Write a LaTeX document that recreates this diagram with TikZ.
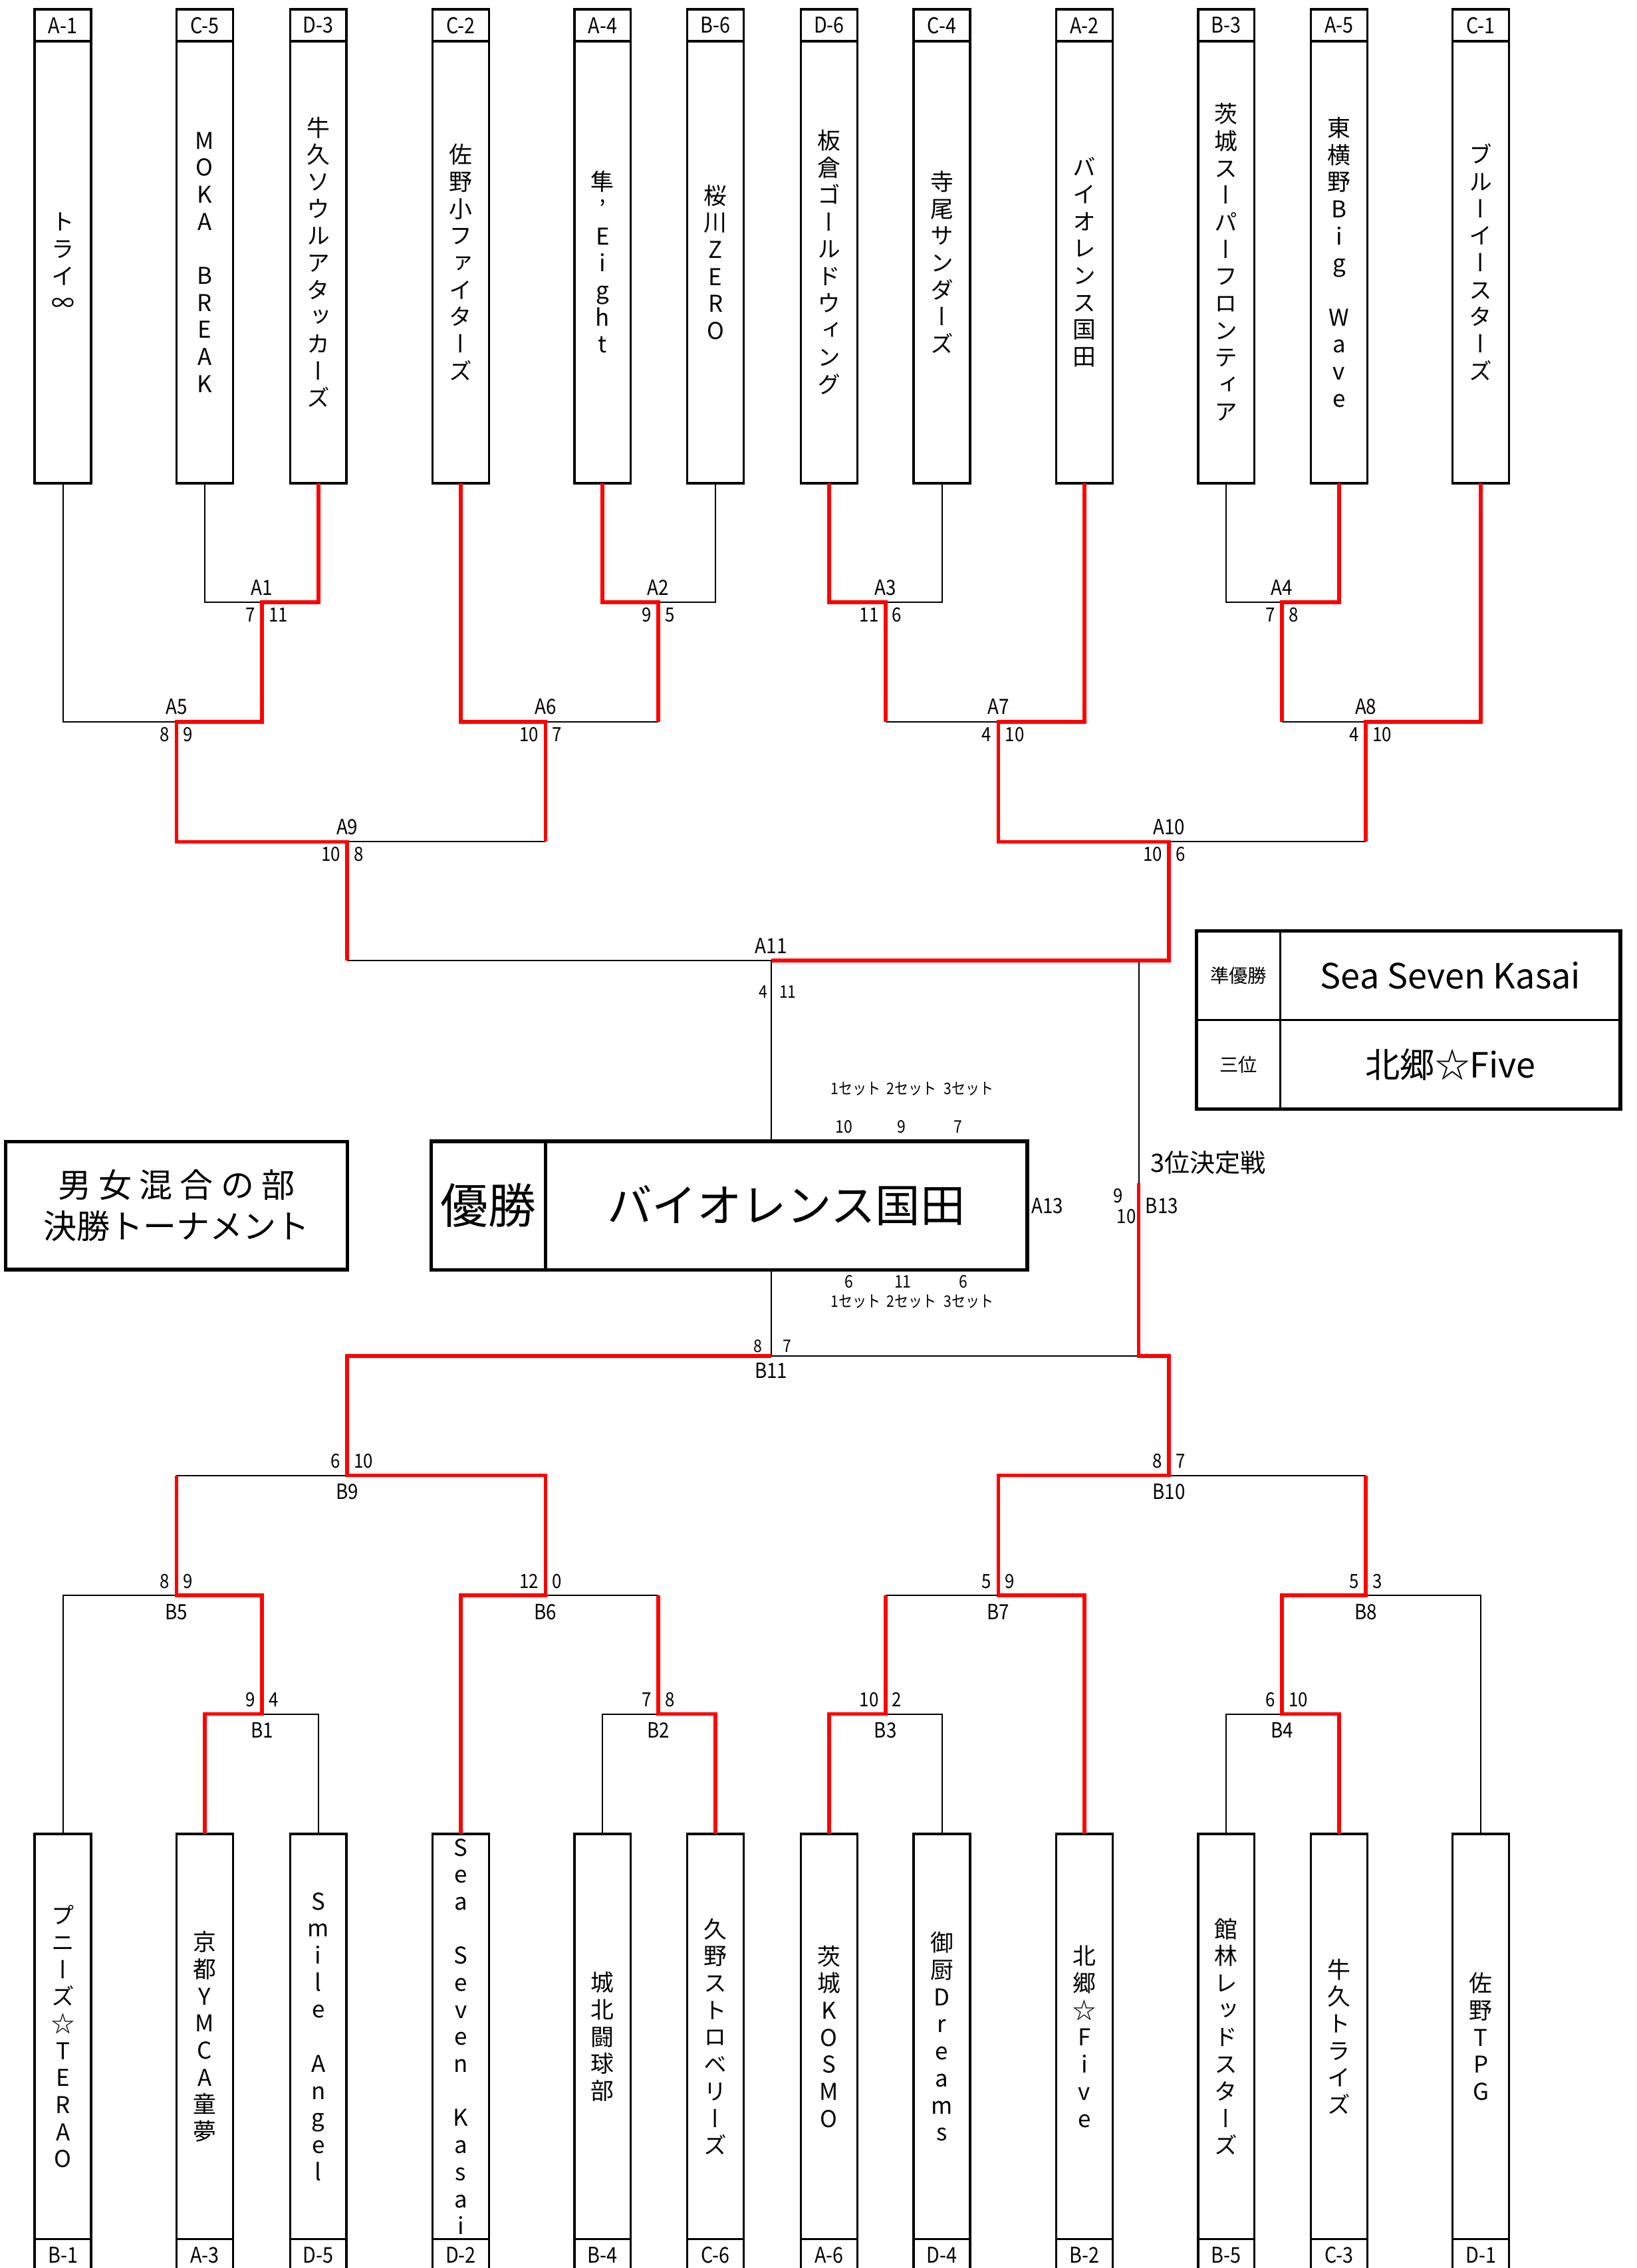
\documentclass[tikz,border=0pt]{standalone}
\usepackage{fontspec}
\setmainfont{Noto Sans CJK JP}
\newfontfamily\narrowjp[FakeStretch=0.88]{Noto Sans CJK JP}
\newfontfamily\vertjp[RawFeature=+vert]{Noto Sans CJK JP}
\usetikzlibrary{positioning}
\definecolor{winred}{HTML}{FF0000}
\tikzset{
  lost/.style={draw=black, line width=0.9pt},
  won/.style={draw=winred, line width=2.6pt},
  body/.style={draw, line width=1.6pt, inner sep=0pt, outer sep=0pt,
    minimum width=39pt, align=center, font=\vertjp\fontsize{16}{18.7}\selectfont},
  topbody/.style={body, minimum height=305.5pt},
  botbody/.style={body, minimum height=280pt},
  teamcode/.style={draw, line width=1.6pt, inner sep=0pt, outer sep=0pt,
    minimum width=39pt, minimum height=22pt, font=\narrowjp\fontsize{15}{15}\selectfont},
  mlab/.style={inner sep=0pt, font=\narrowjp\fontsize{14.5}{15}\selectfont},
  scr/.style={inner sep=0pt, font=\narrowjp\fontsize{13.5}{14}\selectfont},
  setnum/.style={inner sep=0pt, font=\narrowjp\fontsize{12}{12}\selectfont},
  setlab/.style={inner sep=0pt, font=\narrowjp\fontsize{11}{11}\selectfont},
  bigbox/.style={draw, line width=2.5pt, inner sep=0pt, outer sep=0pt},
  rkey/.style={draw, line width=1.2pt, inner sep=0pt, outer sep=0pt,
    minimum width=58pt, minimum height=61.5pt, font=\fontsize{13}{13}\selectfont},
  rval/.style={rkey, minimum width=235pt, font=\fontsize{24}{24}\selectfont}
}

\begin{document}
\begin{tikzpicture}[x=1pt, y=-1pt]
  \useasboundingbox (0,0) rectangle (1131,1568);

  \newcommand\TopMatch[3]{%
    \node[mlab, anchor=base] (l#1) at ([yshift=5pt]#1) {#1};
    \node[scr, anchor=base east] (s#1l) at ([xshift=-4.5pt,yshift=-13.5pt]#1) {#2};
    \node[scr, anchor=base west] (s#1r) at ([xshift=4.5pt,yshift=-13.5pt]#1) {#3};}
  \newcommand\BotMatch[3]{%
    \node[mlab, anchor=base] (l#1) at ([yshift=-16.5pt]#1) {#1};
    \node[scr, anchor=base east] (s#1l) at ([xshift=-4.5pt,yshift=5pt]#1) {#2};
    \node[scr, anchor=base west] (s#1r) at ([xshift=4.5pt,yshift=5pt]#1) {#3};}

  %% match points
  \coordinate (A1) at (181,416.5);
  \coordinate (A2) at (455,416.5);
  \coordinate (A3) at (612,416.5);
  \coordinate (A4) at (886,416.5);
  \coordinate (A5) at (122,499);
  \coordinate (A6) at (377,499);
  \coordinate (A7) at (690,499);
  \coordinate (A8) at (944,499);
  \coordinate (A9) at (240,582);
  \coordinate (A10) at (808,582);
  \coordinate (A11) at (533,664);

  \coordinate (B1) at (181,1185);
  \coordinate (B2) at (455,1185);
  \coordinate (B3) at (612,1185);
  \coordinate (B4) at (886,1185);
  \coordinate (B5) at (122,1103);
  \coordinate (B6) at (377,1103);
  \coordinate (B7) at (690,1103);
  \coordinate (B8) at (944,1103);
  \coordinate (B9) at (240,1020);
  \coordinate (B10) at (808,1020);
  \coordinate (B11) at (533,937.5);
  \coordinate (B13) at (787,818);

  %% top teams
  \node[topbody] (tA1) at (43.5,181.25) {ト\\ラ\\イ\\∞};
  \node[teamcode, above=0pt of tA1] (cA1) {A-1};
  \node[topbody] (tC5) at (141.5,181.25) {M\\O\\K\\A\\~\\B\\R\\E\\A\\K};
  \node[teamcode, above=0pt of tC5] (cC5) {C-5};
  \node[topbody] (tD3) at (220,181.25) {牛\\久\\ソ\\ウ\\ル\\ア\\タ\\ッ\\カ\\ー\\ズ};
  \node[teamcode, above=0pt of tD3] (cD3) {D-3};
  \node[topbody] (tC2) at (318.5,181.25) {佐\\野\\小\\フ\\ァ\\イ\\タ\\ー\\ズ};
  \node[teamcode, above=0pt of tC2] (cC2) {C-2};
  \node[topbody] (tA4) at (416.5,181.25) {隼\\’\\E\\i\\g\\h\\t};
  \node[teamcode, above=0pt of tA4] (cA4) {A-4};
  \node[topbody] (tB6) at (494.5,181.25) {桜\\川\\Z\\E\\R\\O};
  \node[teamcode, above=0pt of tB6] (cB6) {B-6};
  \node[topbody] (tD6) at (573,181.25) {板\\倉\\ゴ\\ー\\ル\\ド\\ウ\\ィ\\ン\\グ};
  \node[teamcode, above=0pt of tD6] (cD6) {D-6};
  \node[topbody] (tC4) at (651,181.25) {寺\\尾\\サ\\ン\\ダ\\ー\\ズ};
  \node[teamcode, above=0pt of tC4] (cC4) {C-4};
  \node[topbody] (tA2) at (749.5,181.25) {バ\\イ\\オ\\レ\\ン\\ス\\国\\田};
  \node[teamcode, above=0pt of tA2] (cA2) {A-2};
  \node[topbody] (tB3) at (847.5,181.25) {茨\\城\\ス\\ー\\パ\\ー\\フ\\ロ\\ン\\テ\\ィ\\ア};
  \node[teamcode, above=0pt of tB3] (cB3) {B-3};
  \node[topbody] (tA5) at (925.5,181.25) {東\\横\\野\\B\\i\\g\\~\\W\\a\\v\\e};
  \node[teamcode, above=0pt of tA5] (cA5) {A-5};
  \node[topbody] (tC1) at (1023.5,181.25) {ブ\\ル\\ー\\イ\\ー\\ス\\タ\\ー\\ズ};
  \node[teamcode, above=0pt of tC1] (cC1) {C-1};

  %% bottom teams
  \node[botbody] (tB1) at (43.5,1408) {プ\\ニ\\ー\\ズ\\☆\\T\\E\\R\\A\\O};
  \node[teamcode, below=0pt of tB1] (cB1) {B-1};
  \node[botbody] (tA3) at (141.5,1408) {京\\都\\Y\\M\\C\\A\\童\\夢};
  \node[teamcode, below=0pt of tA3] (cA3) {A-3};
  \node[botbody] (tD5) at (220,1408) {S\\m\\i\\l\\e\\~\\A\\n\\g\\e\\l};
  \node[teamcode, below=0pt of tD5] (cD5) {D-5};
  \node[botbody] (tD2) at (318.5,1408) {S\\e\\a\\~\\S\\e\\v\\e\\n\\~\\K\\a\\s\\a\\i};
  \node[teamcode, below=0pt of tD2] (cD2) {D-2};
  \node[botbody] (tB4) at (416.5,1408) {城\\北\\闘\\球\\部};
  \node[teamcode, below=0pt of tB4] (cB4) {B-4};
  \node[botbody] (tC6) at (494.5,1408) {久\\野\\ス\\ト\\ロ\\ベ\\リ\\ー\\ズ};
  \node[teamcode, below=0pt of tC6] (cC6) {C-6};
  \node[botbody] (tA6) at (573,1408) {茨\\城\\K\\O\\S\\M\\O};
  \node[teamcode, below=0pt of tA6] (cA6) {A-6};
  \node[botbody] (tD4) at (651,1408) {御\\厨\\D\\r\\e\\a\\m\\s};
  \node[teamcode, below=0pt of tD4] (cD4) {D-4};
  \node[botbody] (tB2) at (749.5,1408) {北\\郷\\☆\\F\\i\\v\\e};
  \node[teamcode, below=0pt of tB2] (cB2) {B-2};
  \node[botbody] (tB5) at (847.5,1408) {館\\林\\レ\\ッ\\ド\\ス\\タ\\ー\\ズ};
  \node[teamcode, below=0pt of tB5] (cB5) {B-5};
  \node[botbody] (tC3) at (925.5,1408) {牛\\久\\ト\\ラ\\イ\\ズ};
  \node[teamcode, below=0pt of tC3] (cC3) {C-3};
  \node[botbody] (tD1) at (1023.5,1408) {佐\\野\\T\\P\\G};
  \node[teamcode, below=0pt of tD1] (cD1) {D-1};

  %% title, champion and results
  \node[bigbox, minimum width=236pt, minimum height=88.5pt, align=center,
    font=\fontsize{23}{28.5}\selectfont] (title) at (122,833.5)
    {{\addfontfeature{LetterSpace=22}男女混合の部}\\決勝トーナメント};
  \node[bigbox, minimum width=79pt, minimum height=89pt,
    font=\fontsize{33}{33}\selectfont] (champk) at (337.5,833.5) {優勝};
  \node[bigbox, minimum width=333pt, minimum height=89pt, right=0pt of champk,
    font=\fontsize{31}{31}\selectfont] (champ) {バイオレンス国田};

  \node[rkey] (rk1) at (856,674.4) {準優勝};
  \node[rval, right=0pt of rk1] (rv1) {Sea Seven Kasai};
  \node[rkey, below=0pt of rk1] (rk2) {三位};
  \node[rval, right=0pt of rk2] (rv2) {北郷☆Five};
  \draw[line width=2.5pt] (rk1.north west) rectangle (rv2.south east);

  %% losing lines (top)
  \draw[lost] (tC5.south) |- (A1);
  \draw[lost] (tB6.south) |- (A2);
  \draw[lost] (tC4.south) |- (A3);
  \draw[lost] (tB3.south) |- (A4);
  \draw[lost] (tA1.south) |- (A5);
  \draw[lost] (A2 |- A6) -- (A6);
  \draw[lost] (A3 |- A7) -- (A7);
  \draw[lost] (A4 |- A8) -- (A8);
  \draw[lost] (A6 |- A9) -- (A9);
  \draw[lost] (A8 |- A10) -- (A10);
  \draw[lost] (A9 |- A11) -- (A11);
  \draw[lost] (A11) -- (champ.north -| A11);
  \draw[lost] (A11 -| B13) -- (B13);

  %% losing lines (bottom)
  \draw[lost] (tD5.north) |- (B1);
  \draw[lost] (tB4.north) |- (B2);
  \draw[lost] (tD4.north) |- (B3);
  \draw[lost] (tB5.north) |- (B4);
  \draw[lost] (tB1.north) |- (B5);
  \draw[lost] (B2 |- B6) -- (B6);
  \draw[lost] (B3 |- B7) -- (B7);
  \draw[lost] (tD1.north) |- (B8);
  \draw[lost] (B5 |- B9) -- (B9);
  \draw[lost] (B8 |- B10) -- (B10);
  \draw[lost] (B11) -- (B13 |- B11);
  \draw[lost] (B11) -- (champ.south -| B11);

  %% winning lines
  \draw[won] (tD3.south) |- (A1) -- (A1 |- A5) -- (A5) -- (A5 |- A9) -- (A9) -- (A9 |- A11);
  \draw[won] (tA4.south) |- (A2) -- (A2 |- A6);
  \draw[won] (tC2.south) |- (A6) -- (A6 |- A9);
  \draw[won] (tD6.south) |- (A3) -- (A3 |- A7);
  \draw[won] (tA2.south) |- (A7) -- (A7 |- A10) -- (A10) -- (A10 |- A11) -- (A11);
  \draw[won] (tA5.south) |- (A4) -- (A4 |- A8);
  \draw[won] (tC1.south) |- (A8) -- (A8 |- A10);

  \draw[won] (tA3.north) |- (B1) -- (B1 |- B5) -- (B5) -- (B5 |- B9);
  \draw[won] (tC6.north) |- (B2) -- (B2 |- B6);
  \draw[won] (tD2.north) |- (B6) -- (B6 |- B9) -- (B9) -- (B9 |- B11) -- (B11);
  \draw[won] (tA6.north) |- (B3) -- (B3 |- B7);
  \draw[won] (tB2.north) |- (B7) -- (B7 |- B10) -- (B10) -- (B10 |- B11) -- (B13 |- B11) -- (B13);
  \draw[won] (tC3.north) |- (B4) -- (B4 |- B8) -- (B8) -- (B8 |- B10);

  %% match names and scores
  \TopMatch{A1}{7}{11} \TopMatch{A2}{9}{5} \TopMatch{A3}{11}{6} \TopMatch{A4}{7}{8}
  \TopMatch{A5}{8}{9} \TopMatch{A6}{10}{7} \TopMatch{A7}{4}{10} \TopMatch{A8}{4}{10}
  \TopMatch{A9}{10}{8} \TopMatch{A10}{10}{6}
  \BotMatch{B1}{9}{4} \BotMatch{B2}{7}{8} \BotMatch{B3}{10}{2} \BotMatch{B4}{6}{10}
  \BotMatch{B5}{8}{9} \BotMatch{B6}{12}{0} \BotMatch{B7}{5}{9} \BotMatch{B8}{5}{3}
  \BotMatch{B9}{6}{10} \BotMatch{B10}{8}{7}

  \node[mlab, anchor=base] (lA11) at ([yshift=5pt]A11) {A11};
  \node[setnum, anchor=base east] (sA11l) at ([xshift=-2.5pt,yshift=-26pt]A11) {4};
  \node[setnum, anchor=base west] (sA11r) at ([xshift=5.5pt,yshift=-26pt]A11) {11};
  \node[mlab, anchor=base] (lB11) at ([yshift=-15.5pt]B11) {B11};
  \node[setnum, anchor=base east] (sB11l) at ([xshift=-6pt,yshift=2.4pt]B11) {8};
  \node[setnum, anchor=base west] (sB11r) at ([xshift=8pt,yshift=2.4pt]B11) {7};

  %% final and third place
  \node[mlab] (lA13) at (724,833.8) {A13};
  \node[mlab] (lB13) at (803,833.8) {B13};
  \node[scr] (sB13t) at (773,826.6) {9};
  \node[scr] (sB13b) at (778.5,841) {10};
  \node[inner sep=0pt, font=\fontsize{17.5}{17.5}\selectfont] (third) at (835,804) {3位決定戦};

  \node[setlab] (set1t) at (591.6,752.8) {1セット};
  \node[setlab] (set2t) at (630,752.8) {2セット};
  \node[setlab] (set3t) at (669.5,752.8) {3セット};
  \node[setnum] (n1t) at (583.3,778.8) {10};
  \node[setnum] (n2t) at (623,778.8) {9};
  \node[setnum] (n3t) at (662,778.8) {7};
  \node[setnum] (n1b) at (587,886) {6};
  \node[setnum] (n2b) at (624,886) {11};
  \node[setnum] (n3b) at (666,886) {6};
  \node[setlab] (set1b) at (591.6,900) {1セット};
  \node[setlab] (set2b) at (630,900) {2セット};
  \node[setlab] (set3b) at (669.5,900) {3セット};
\end{tikzpicture}
\end{document}
